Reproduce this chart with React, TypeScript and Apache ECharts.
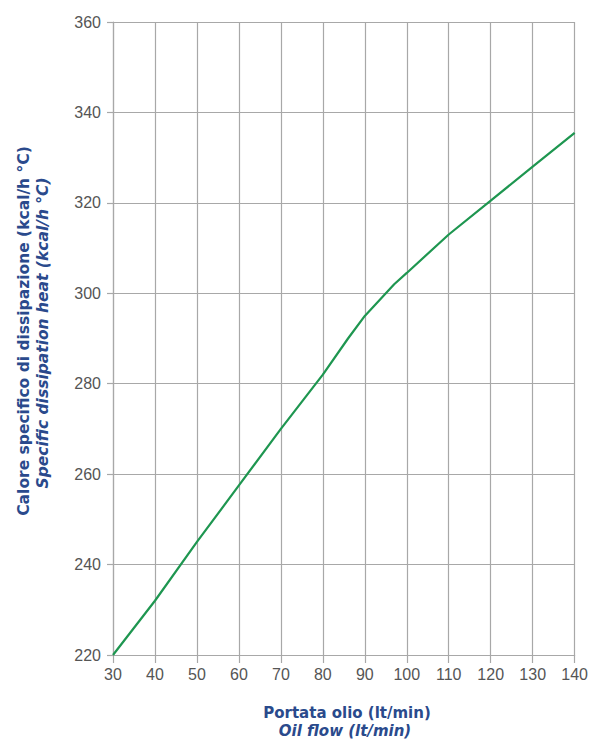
import React, { useEffect, useRef } from "react";
import * as echarts from "echarts";

const flow = [30, 40, 50, 60, 70, 80, 86, 90, 97, 100, 110, 120, 130, 140];
const heat = [220, 232, 245, 257.5, 270, 282, 290, 295, 302, 304.5, 313, 320.5, 328, 335.5];

const yTitleIt = "Calore specifico di dissipazione (kcal/h °C)";
const yTitleEn = "Specific dissipation heat (kcal/h °C)";
const xTitleIt = "Portata olio (lt/min)";
const xTitleEn = "Oil flow (lt/min)";

export default function App() {
  const ref = useRef<HTMLDivElement>(null);
  useEffect(() => {
    document.body.style.margin = "0";
    const chart = echarts.init(ref.current!, null, { renderer: "svg" });
    const gridC = "#a8a8a8";
    const blue = "#2a4a8c";
    const titleFont = "'DejaVu Sans', 'Liberation Sans', Arial";
    chart.setOption({
      animation: false,
      backgroundColor: "#ffffff",
      grid: { left: 113, right: 16, top: 22, bottom: 90, containLabel: false },
      xAxis: {
        type: "value",
        min: 30,
        max: 140,
        interval: 10,
        axisLine: { show: true, lineStyle: { color: gridC, width: 1.2 } },
        axisTick: { show: true, length: 8, lineStyle: { color: gridC, width: 1.2 } },
        splitLine: { show: true, lineStyle: { color: gridC, width: 1.2 } },
        axisLabel: { color: "#555", fontSize: 16, fontFamily: "Liberation Sans, Arial", margin: 11 },
      },
      yAxis: {
        type: "value",
        min: 220,
        max: 360,
        interval: 20,
        axisLine: { show: true, lineStyle: { color: gridC, width: 1.2 } },
        axisTick: { show: true, length: 6, lineStyle: { color: gridC, width: 1.2 } },
        splitLine: { show: true, lineStyle: { color: gridC, width: 1.2 } },
        axisLabel: { color: "#555", fontSize: 16, fontFamily: "Liberation Sans, Arial", margin: 12 },
      },
      series: [
        {
          type: "line",
          data: flow.map((x, i) => [x, heat[i]]),
          showSymbol: false,
          smooth: false,
          lineStyle: { color: "#1e9650", width: 2.2 },
        },
      ],
      graphic: [
        {
          type: "text",
          x: 24,
          y: 331,
          rotation: Math.PI / 2,
          style: {
            text: yTitleIt,
            fill: blue,
            font: `bold 15.5px ${titleFont}`,
            align: "center",
            verticalAlign: "middle",
          },
        },
        {
          type: "text",
          x: 43,
          y: 333,
          rotation: Math.PI / 2,
          style: {
            text: yTitleEn,
            fill: blue,
            font: `italic bold 15.5px ${titleFont}`,
            align: "center",
            verticalAlign: "middle",
          },
        },
        {
          type: "text",
          x: 347,
          y: 713,
          style: {
            text: xTitleIt,
            fill: blue,
            font: `bold 15px ${titleFont}`,
            align: "center",
            verticalAlign: "middle",
          },
        },
        {
          type: "text",
          x: 345,
          y: 731,
          style: {
            text: xTitleEn,
            fill: blue,
            font: `italic bold 15px ${titleFont}`,
            align: "center",
            verticalAlign: "middle",
          },
        },
      ],
    });
    return () => chart.dispose();
  }, []);
  return <div ref={ref} style={{ width: 591, height: 745 }} />;
}
